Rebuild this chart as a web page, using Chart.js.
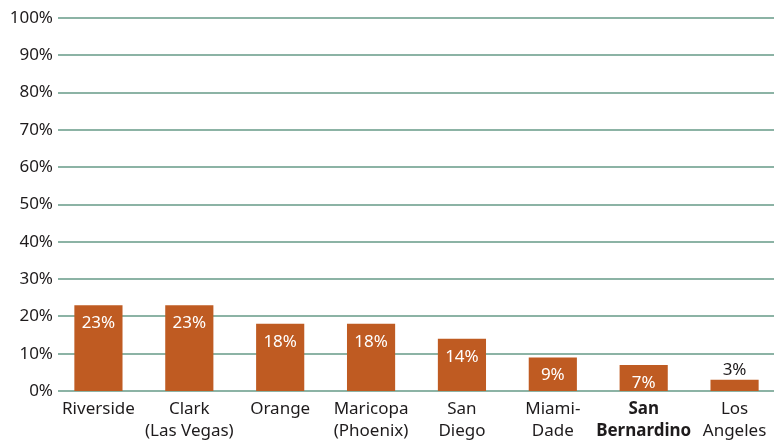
<!DOCTYPE html>
<html>
<head>
<meta charset="utf-8">
<script src="https://cdn.jsdelivr.net/npm/chart.js@4/dist/chart.umd.min.js"></script>
<style>
  html, body { margin: 0; padding: 0; background: #fff; }
  #wrap { width: 783px; height: 441px; }
</style>
</head>
<body>
<div id="wrap"><canvas id="chart"></canvas></div>
<script>
const counties = [
  ['Riverside'],
  ['Clark', '(Las Vegas)'],
  ['Orange'],
  ['Maricopa', '(Phoenix)'],
  ['San', 'Diego'],
  ['Miami-', 'Dade'],
  ['San', 'Bernardino'],
  ['Los', 'Angeles']
];
const shares = [23, 23, 18, 18, 14, 9, 7, 3];
const boldIndex = 6;

const barColor = '#bf5b22';
const gridColor = '#8cb3a5';
const textColor = '#1e1b1c';
const fontFamily = '"Noto Sans", "Open Sans", sans-serif';

// horizontal rules, a little inset from the category band on each side
const gridLines = {
  id: 'gridLines',
  beforeDatasetsDraw(chart) {
    const ctx = chart.ctx;
    const y = chart.scales.y;
    const area = chart.chartArea;
    ctx.save();
    ctx.strokeStyle = gridColor;
    ctx.lineWidth = 2;
    y.ticks.forEach((t) => {
      const py = Math.round(y.getPixelForValue(t.value));
      ctx.beginPath();
      ctx.moveTo(area.left + 5, py);
      ctx.lineTo(area.right - 6, py);
      ctx.stroke();
    });
    ctx.restore();
  }
};

// values printed on the bars: inside in white, above in dark when the bar is short
const barLabels = {
  id: 'barLabels',
  afterDatasetsDraw(chart) {
    const ctx = chart.ctx;
    const meta = chart.getDatasetMeta(0);
    ctx.save();
    ctx.font = '17px ' + fontFamily;
    ctx.textAlign = 'center';
    ctx.textBaseline = 'middle';
    meta.data.forEach((bar, i) => {
      const v = shares[i];
      const h = bar.base - bar.y;
      if (h > 20) {
        ctx.fillStyle = '#ffffff';
        ctx.fillText(v + '%', bar.x, bar.y + 18);
      } else {
        ctx.fillStyle = textColor;
        ctx.fillText(v + '%', bar.x, bar.y - 10);
      }
    });
    ctx.restore();
  }
};

new Chart(document.getElementById('chart'), {
  type: 'bar',
  data: {
    labels: counties,
    datasets: [{ data: shares, backgroundColor: barColor, barPercentage: 1, categoryPercentage: 0.53 }]
  },
  options: {
    responsive: true,
    maintainAspectRatio: false,
    animation: false,
    layout: { padding: { top: 18, right: 3, left: 0, bottom: 0 } },
    plugins: { legend: { display: false }, tooltip: { enabled: false } },
    scales: {
      x: {
        grid: { display: false },
        border: { display: false },
        afterFit: (scale) => { scale.height = 50; },
        ticks: {
          color: textColor,
          padding: 0,
          maxRotation: 0,
          autoSkip: false,
          font: (c) => ({ family: fontFamily, size: 17, lineHeight: 1.25, weight: c.index === boldIndex ? 'bold' : 'normal' })
        }
      },
      y: {
        min: 0,
        max: 100,
        border: { display: false },
        grid: { display: false, drawTicks: false },
        afterFit: (scale) => { scale.width = 53; },
        ticks: {
          stepSize: 10,
          padding: 0,
          color: textColor,
          font: { family: fontFamily, size: 17 },
          callback: (v) => v + '%'
        }
      }
    }
  },
  plugins: [gridLines, barLabels]
});
</script>
</body>
</html>
